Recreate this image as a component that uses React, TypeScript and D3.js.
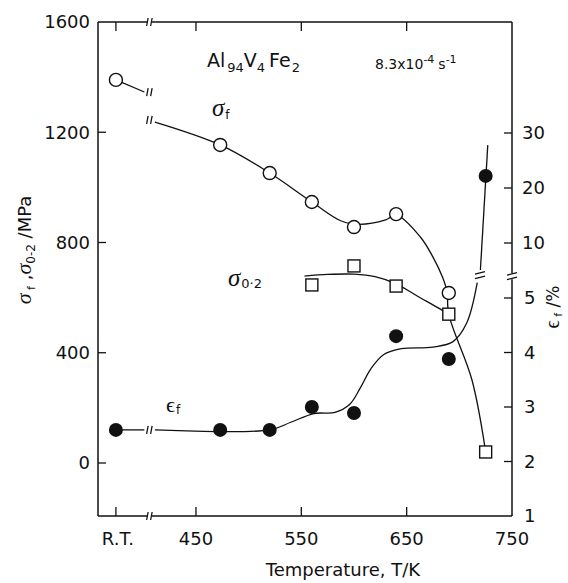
import React from 'react';
import * as d3 from 'd3';

// R.T. sits on a broken temperature axis; it is placed at this pseudo temperature
const RT = 374;
const X_BREAK = 406;

const xTicks = [RT, 450, 550, 650, 750];
const xTickLabels = ['R.T.', '450', '550', '650', '750'];
const yLeftTicks = [0, 400, 800, 1200, 1600];
const yRightHighTicks = [10, 20, 30];
const yRightLowTicks = [1, 2, 3, 4, 5];

// measured points
const sigmaFT = [RT, 473, 520, 560, 600, 640, 690];
const sigmaFV = [1390, 1154, 1052, 947, 856, 903, 617];
const sigma02T = [560, 600, 640, 690, 725];
const sigma02V = [646, 715, 642, 540, 40];
const epsT = [RT, 473, 520, 560, 600, 640, 690];
const epsV = [2.58, 2.58, 2.58, 3.0, 2.89, 4.3, 3.88];
const epsHighT = [725];
const epsHighV = [22.2];

// hand drawn curves
const sigmaFCurveA: [number, number][] = [[RT, 1390], [401, 1346]];
const sigmaFCurveB: [number, number][] = [[411, 1237], [473, 1154], [520, 1052], [560, 947], [588, 878], [605, 866], [630, 882], [640, 900], [663, 820], [675, 747], [684, 675], [689, 617]];
const sigmaFCurveC: [number, number][] = [[689, 617], [690, 540], [712, 301], [725, 40]];
const sigma02Curve: [number, number][] = [[553, 678], [575, 684], [600, 685], [620, 676], [640, 650], [660, 606], [680, 563], [690, 540]];
const epsCurveA: [number, number][] = [[RT, 2.58], [401, 2.58]];
const epsCurveB: [number, number][] = [[411, 2.58], [520, 2.58], [540, 2.72], [562, 2.88], [582, 2.9], [596, 3.05], [606, 3.35], [616, 3.7], [628, 3.96], [645, 4.07], [675, 4.1], [694, 4.2], [707, 4.54], [717, 5.28]];
const epsCurveHigh: [number, number][] = [[720, 5.1], [727, 27.8]];

const SANS = 'DejaVu Sans, Verdana, sans-serif';
const SERIF = 'Liberation Serif, Times New Roman, serif';

export default function App() {
  const x = d3.scaleLinear().domain([357, 750]).range([98, 512]);
  const yL = d3.scaleLinear().domain([0, 1600]).range([463, 22]);
  const yRLow = d3.scaleLinear().domain([1, 5]).range([516, 298]);
  const yRHigh = d3.scaleLinear().domain([10, 30]).range([243, 133]);

  const left = x(357), right = x(750), top = yL(1600), bottom = yRLow(1);
  const xb = x(X_BREAK);
  const yBreak = yRLow(5.4);

  const smooth = d3.curveCatmullRom.alpha(0.5);
  const lineL = d3.line<[number, number]>().x(d => x(d[0])).y(d => yL(d[1])).curve(smooth);
  const lineLow = d3.line<[number, number]>().x(d => x(d[0])).y(d => yRLow(d[1])).curve(smooth);
  const lineHigh = d3.line<[number, number]>().x(d => x(d[0])).y(d => yRHigh(d[1]));

  const vMark = (cx: number, cy: number, key: string) => (
    <g key={key} stroke="#111" strokeWidth={1.3}>
      <line x1={cx - 3} y1={cy + 4} x2={cx - 1.5} y2={cy - 4} />
      <line x1={cx + 1} y1={cy + 4} x2={cx + 2.5} y2={cy - 4} />
    </g>
  );
  const hMark = (cx: number, cy: number, key: string) => (
    <g key={key} stroke="#111" strokeWidth={1.3}>
      <line x1={cx - 5} y1={cy - 1} x2={cx + 5} y2={cy - 3.5} />
      <line x1={cx - 5} y1={cy + 3.5} x2={cx + 5} y2={cy + 1} />
    </g>
  );

  const ink = '#111';
  const lineStyle = { fill: 'none', stroke: ink, strokeWidth: 1.3 };

  return (
    <svg width={568} height={583} style={{ position: 'absolute', left: 0, top: 0, background: '#fff' }}>
      {/* frame */}
      <g stroke={ink} strokeWidth={1.5} fill="none">
        <line x1={left} y1={top} x2={left} y2={bottom} />
        <line x1={left} y1={top} x2={xb - 2} y2={top} />
        <line x1={xb + 2} y1={top} x2={right} y2={top} />
        <line x1={left} y1={bottom} x2={xb - 2} y2={bottom} />
        <line x1={xb + 2} y1={bottom} x2={right} y2={bottom} />
        <line x1={right} y1={top} x2={right} y2={yBreak - 3} />
        <line x1={right} y1={yBreak + 3} x2={right} y2={bottom} />
      </g>
      {vMark(xb, top, 'bt')}
      {vMark(xb, bottom, 'bb')}
      {hMark(right, yBreak, 'br')}

      {/* ticks */}
      <g stroke={ink} strokeWidth={1.3}>
        {xTicks.slice(0, 4).map(t => (
          <g key={'xt' + t}>
            <line x1={x(t)} y1={bottom} x2={x(t)} y2={bottom - 9} />
            <line x1={x(t)} y1={top} x2={x(t)} y2={top + 9} />
          </g>
        ))}
        {yLeftTicks.slice(0, 4).map(t => (
          <line key={'yl' + t} x1={left} y1={yL(t)} x2={left + 8} y2={yL(t)} />
        ))}
        {yRightHighTicks.map(t => (
          <line key={'yh' + t} x1={right} y1={yRHigh(t)} x2={right - 8} y2={yRHigh(t)} />
        ))}
        {yRightLowTicks.slice(1).map(t => (
          <line key={'ylo' + t} x1={right} y1={yRLow(t)} x2={right - 8} y2={yRLow(t)} />
        ))}
      </g>

      {/* tick labels */}
      <g fontFamily={SANS} fontSize={18} fill={ink}>
        {xTicks.map((t, i) => (
          <text key={'xl' + t} x={x(t) + (i === 0 ? 2 : 0)} y={545} textAnchor="middle">{xTickLabels[i]}</text>
        ))}
        {yLeftTicks.map(t => (
          <text key={'yll' + t} x={90} y={yL(t)} dy="0.36em" textAnchor="end">{t}</text>
        ))}
        {yRightHighTicks.map(t => (
          <text key={'yhl' + t} x={522} y={yRHigh(t)} dy="0.36em">{t}</text>
        ))}
        {yRightLowTicks.map(t => (
          <text key={'yrl' + t} x={524} y={yRLow(t)} dy="0.36em">{t}</text>
        ))}
        <text x={343} y={576} textAnchor="middle">Temperature, T/K</text>
      </g>

      {/* axis titles */}
      <text transform="translate(31,250) rotate(-90)" textAnchor="middle" fontFamily={SANS} fontSize={18} fill={ink}>
        <tspan fontFamily={SERIF} fontStyle="italic" fontSize={22}>σ</tspan>
        <tspan fontSize={11} dy={4}> f</tspan>
        <tspan dy={-4}> ,</tspan>
        <tspan fontFamily={SERIF} fontStyle="italic" fontSize={22}>σ</tspan>
        <tspan fontSize={12} dy={4}>0-2</tspan>
        <tspan dy={-4}> /MPa</tspan>
      </text>
      <text transform="translate(559,307) rotate(-90)" textAnchor="middle" fontFamily={SANS} fontSize={17} fill={ink}>
        <tspan fontFamily={SERIF} fontSize={20}>ϵ</tspan>
        <tspan fontSize={11} dy={3}> f</tspan>
        <tspan dy={-3}> /%</tspan>
      </text>

      {/* annotations */}
      <text x={207} y={67} fontFamily={SANS} fontSize={19} fill={ink}>
        Al<tspan fontSize={13} dy={5} dx={2}>94</tspan>
        <tspan dy={-5}>V</tspan>
        <tspan fontSize={13} dy={5}>4</tspan>
        <tspan dy={-5} dx={4}>Fe</tspan>
        <tspan fontSize={13} dy={5} dx={1}>2</tspan>
      </text>
      <text x={375} y={69} fontFamily={SANS} fontSize={14} fill={ink}>
        8.3x10<tspan fontSize={11} dy={-6}>-4</tspan>
        <tspan dy={6} dx={4}>s</tspan>
        <tspan fontSize={11} dy={-6}>-1</tspan>
      </text>
      <text x={212} y={116} fontFamily={SERIF} fontStyle="italic" fontSize={25} fill={ink}>
        σ<tspan fontFamily={SANS} fontStyle="normal" fontSize={12} dy={3} dx={1}>f</tspan>
      </text>
      <text x={228} y={286} fontFamily={SERIF} fontStyle="italic" fontSize={25} fill={ink}>
        σ<tspan fontFamily={SANS} fontStyle="normal" fontSize={13} dy={2} dx={1}>0·2</tspan>
      </text>
      <text x={166} y={412} fontFamily={SERIF} fontSize={22} fill={ink}>
        ϵ<tspan fontFamily={SANS} fontSize={12} dy={2} dx={1}>f</tspan>
      </text>

      {/* curves */}
      <path d={lineL(sigmaFCurveA) || ''} {...lineStyle} />
      <path d={lineL(sigmaFCurveB) || ''} {...lineStyle} />
      <path d={lineL(sigmaFCurveC) || ''} {...lineStyle} />
      <path d={lineL(sigma02Curve) || ''} {...lineStyle} />
      <path d={lineLow(epsCurveA) || ''} {...lineStyle} />
      <path d={lineLow(epsCurveB) || ''} {...lineStyle} />
      <path d={lineHigh(epsCurveHigh) || ''} {...lineStyle} />
      {vMark(xb, yL(1346), 'sf1')}
      {vMark(xb, yL(1245), 'sf2')}
      {vMark(xb, yRLow(2.58), 'e1')}
      {hMark(x(719.6), yRLow(5.42), 'e2')}

      {/* markers */}
      {sigmaFT.map((t, i) => (
        <circle key={'sf' + i} cx={x(t)} cy={yL(sigmaFV[i])} r={6.5} fill="#fff" stroke={ink} strokeWidth={1.4} />
      ))}
      {sigma02T.map((t, i) => (
        <rect key={'s02' + i} x={x(t) - 6} y={yL(sigma02V[i]) - 6} width={12} height={12} fill="#fff" stroke={ink} strokeWidth={1.4} />
      ))}
      {epsT.map((t, i) => (
        <circle key={'e' + i} cx={x(t)} cy={yRLow(epsV[i])} r={7} fill={ink} />
      ))}
      {epsHighT.map((t, i) => (
        <circle key={'eh' + i} cx={x(t)} cy={yRHigh(epsHighV[i])} r={7} fill={ink} />
      ))}
    </svg>
  );
}
